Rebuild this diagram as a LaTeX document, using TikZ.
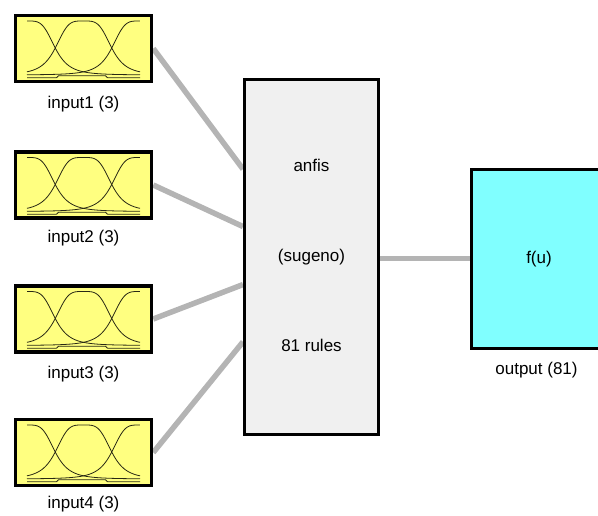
\documentclass[tikz,border=0pt]{standalone}
\usepackage{fontspec}
\setmainfont{Liberation Sans}
\usetikzlibrary{backgrounds,calc}

\definecolor{mfyellow}{RGB}{255,255,128}
\definecolor{outcyan}{RGB}{128,255,255}
\definecolor{rulegray}{RGB}{240,240,240}
\definecolor{wiregray}{RGB}{180,180,180}
\definecolor{curveink}{RGB}{40,40,20}

% three bell-shaped membership functions plus the stepped base line
\newcommand\mfcurves[1]{%
  \begin{scope}[shift={(#1.center)}]
    \draw[mf] plot[domain=-56.5:56.5,samples=90]
      (\x,{26.5-54/(1+((abs(\x+56.5)+0.001)/28.25)^4)});
    \draw[mf] plot[domain=-56.5:56.5,samples=90]
      (\x,{26.5-54/(1+((abs(\x)+0.001)/28.25)^4)});
    \draw[mf] plot[domain=-56.5:56.5,samples=90]
      (\x,{26.5-54/(1+((abs(\x-56.5)+0.001)/28.25)^4)});
    \draw[mf] (-56.5,29.2) -- (-27,29.2) -- (-25,27.2) -- (22,27.2)
      -- (24,29.2) -- (56.5,29.2);
  \end{scope}}

\begin{document}
\begin{tikzpicture}[x=1pt,y=-1pt,
  inbox/.style={draw=black,line width=3.5pt,fill=mfyellow,
    minimum width=136pt,minimum height=66pt,inner sep=0pt},
  rulebox/.style={draw=black,line width=3pt,fill=rulegray,
    minimum width=134pt,minimum height=355pt,inner sep=0pt},
  outbox/.style={draw=black,line width=3pt,fill=outcyan,
    minimum width=135pt,minimum height=178.5pt,inner sep=0pt},
  lbl/.style={anchor=base,inner sep=0pt,font=\fontsize{17}{20}\selectfont},
  wire/.style={draw=wiregray,line width=5.5pt},
  mf/.style={draw=curveink,line width=0.8pt,line join=round}]

\useasboundingbox (0,0) rectangle (598,516);
\clip (0,0) rectangle (598,516);

% input membership-function blocks
\node[inbox] (in1) at (83.5,48.5) {};
\node[inbox] (in2) at (83.5,185) {};
\node[inbox] (in3) at (83.5,319) {};
\node[inbox] (in4) at (83.5,452.5) {};
\mfcurves{in1}
\mfcurves{in2}
\mfcurves{in3}
\mfcurves{in4}

\node[lbl] (lab1) at (83.5,108.5) {input1 (3)};
\node[lbl] (lab2) at (83.5,243) {input2 (3)};
\node[lbl] (lab3) at (83.5,378) {input3 (3)};
\node[lbl] (lab4) at (83.5,508) {input4 (3)};

% rule block
\node[rulebox] (core) at (311.5,257) {};
\node[lbl] (t1) at (311.5,172) {anfis};
\node[lbl] (t2) at (311.5,261.5) {(sugeno)};
\node[lbl] (t3) at (311.5,352) {81 rules};

% output block
\node[outbox] (out) at (539,258.75) {};
\node[lbl] (fu) at (539,264) {f(u)};
\node[lbl] (lab5) at (536.5,374) {output (81)};

% connectors, kept behind the blocks
\begin{pgfonlayer}{background}
  \draw[wire] (in1.east) -- ($(core.north west)!0.2546!(core.south west)$);
  \draw[wire] (in2.east) -- ($(core.north west)!0.4150!(core.south west)$);
  \draw[wire] (in3.east) -- ($(core.north west)!0.5770!(core.south west)$);
  \draw[wire] (in4.east) -- ($(core.north west)!0.7370!(core.south west)$);
  \draw[wire] (core.east |- out.west) -- (out.west);
\end{pgfonlayer}
\end{tikzpicture}
\end{document}
